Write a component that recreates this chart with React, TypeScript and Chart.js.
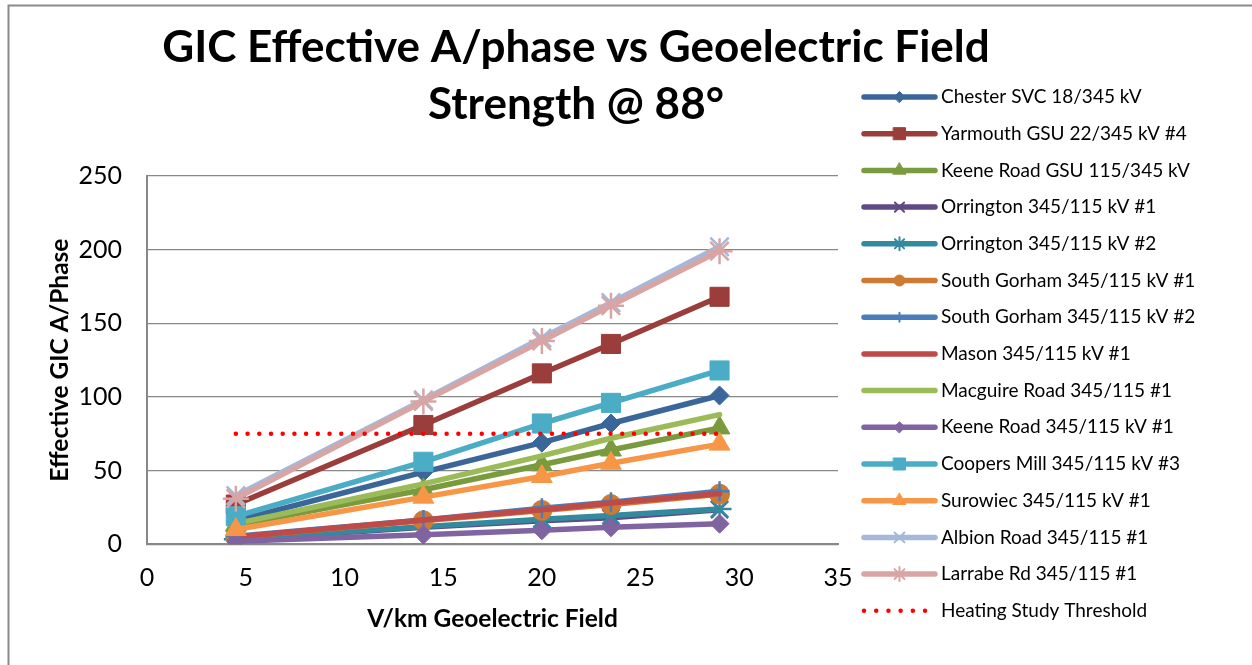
import React, { useEffect, useRef } from 'react';
import { Chart, registerables } from 'chart.js';
import { drawPoint } from 'chart.js/helpers';

Chart.register(...registerables);

// ---------------- data ----------------
const fieldStrength = [4.5, 14, 20, 23.5, 29];

const seriesNames = [
  'Chester SVC 18/345 kV',
  'Yarmouth GSU 22/345 kV #4',
  'Keene Road GSU 115/345 kV',
  'Orrington 345/115 kV #1',
  'Orrington 345/115 kV #2',
  'South Gorham 345/115 kV #1',
  'South Gorham 345/115 kV #2',
  'Mason 345/115 kV #1',
  'Macguire Road 345/115 #1',
  'Keene Road 345/115 kV #1',
  'Coopers Mill 345/115 kV #3',
  'Surowiec 345/115 kV #1',
  'Albion Road 345/115 #1',
  'Larrabe Rd 345/115 #1',
];

const chester = [16, 49, 69, 82, 101];
const yarmouth = [27, 81, 116, 136, 168];
const keeneRoadGsu = [13, 37, 54, 64, 79];
const orrington1 = [3, 11.5, 16, 18, 23.5];
const orrington2 = [3.5, 12, 17, 19.5, 24];
const southGorham1 = [5, 16, 23, 27, 34];
const southGorham2 = [5.5, 16.5, 24.5, 28.5, 36];
const mason = [5, 16.5, 23.5, 28, 34.5];
const macguireRoad = [14, 41, 60, 72, 88];
const keeneRoad345 = [2, 6.5, 9.5, 11.5, 14];
const coopersMill = [19, 56, 82, 96, 118];
const surowiec = [10, 32, 46, 55, 68];
const albionRoad = [33, 98, 140, 164, 202];
const larrabeRd = [31, 97, 138, 162, 199];

const seriesValues = [
  chester, yarmouth, keeneRoadGsu, orrington1, orrington2, southGorham1,
  southGorham2, mason, macguireRoad, keeneRoad345, coopersMill, surowiec,
  albionRoad, larrabeRd,
];

const thresholdName = 'Heating Study Threshold';
const thresholdX = [4.5, 29];
const thresholdY = [75, 75];

const titleLines = ['GIC Effective A/phase vs Geoelectric Field', 'Strength @ 88°'];
const xTitle = 'V/km Geoelectric Field';
const yTitle = 'Effective GIC A/Phase';
const xMin = 0, xMax = 35, xStep = 5;
const yMin = 0, yMax = 250, yStep = 50;

// ---------------- styles ----------------
const styles: { color: string; point: any; r: number; lr: number; bw: number }[] = [
  { color: '#3B6699', point: 'rectRot', r: 9.5, lr: 5.5, bw: 1 },
  { color: '#9B3D3B', point: 'rect', r: 13.5, lr: 8.5, bw: 1 },
  { color: '#7A9A3E', point: 'triangle', r: 12, lr: 7.5, bw: 1 },
  { color: '#5F4A85', point: 'crossRot', r: 12, lr: 6.5, bw: 2.5 },
  { color: '#338A9E', point: 'star', r: 12, lr: 6.5, bw: 2.5 },
  { color: '#CF7A32', point: 'circle', r: 10, lr: 5.5, bw: 1 },
  { color: '#4A7EBB', point: 'cross', r: 10, lr: 4.5, bw: 2.5 },
  { color: '#BE4B48', point: false, r: 0, lr: 0, bw: 0 },
  { color: '#9BBB59', point: false, r: 0, lr: 0, bw: 0 },
  { color: '#8064A2', point: 'rectRot', r: 9.5, lr: 5.5, bw: 1 },
  { color: '#4BACC6', point: 'rect', r: 13.5, lr: 8.5, bw: 1 },
  { color: '#F79646', point: 'triangle', r: 12, lr: 7.5, bw: 1 },
  { color: '#A5B8D9', point: 'crossRot', r: 13, lr: 7, bw: 2.5 },
  { color: '#D9A5A4', point: 'star', r: 13, lr: 7, bw: 2.5 },
];
const thresholdColor = '#FF0000';

const W = 1252, H = 665;
const FONT = 'Lato, "Open Sans", sans-serif';
const CA = { left: 147, right: 838, top: 176, bottom: 544.3 };
const PAD = { top: 70.8, left: 10, bottom: 10, right: 0 };
const LEG_FONT = 19;
const LEG_PAD = 15.7;
const LEG_ITEM_H = 21;
const LEG_TEXT_X = 941;
const SYM_OFF = 10.3;
const SYM_LEN = 71;
const TITLE_CX = 576;
const TITLE_LH = 57;
const TITLE_Y1 = 48;

export default function App() {
  const ref = useRef<HTMLCanvasElement>(null);

  useEffect(() => {
    document.body.style.margin = '0';
    document.body.style.overflow = 'hidden';
    const canvas = ref.current!;

    const datasets: any[] = seriesNames.map((name, i) => {
      const st = styles[i];
      return {
        label: name,
        data: fieldStrength.map((x, k) => ({ x, y: seriesValues[i][k] })),
        borderColor: st.color,
        backgroundColor: st.color,
        borderWidth: 5.5,
        borderCapStyle: 'round',
        borderJoinStyle: 'round',
        pointStyle: st.point || 'circle',
        pointRadius: st.point ? st.r : 0,
        pointBorderWidth: st.bw,
        pointBackgroundColor: st.color,
        pointBorderColor: st.color,
        tension: 0,
        fill: false,
        order: -i,
      };
    });
    datasets.push({
      label: thresholdName,
      data: thresholdX.map((x, k) => ({ x, y: thresholdY[k] })),
      borderColor: thresholdColor,
      backgroundColor: thresholdColor,
      borderWidth: 4.5,
      borderCapStyle: 'round',
      borderDash: [0.01, 11.7],
      pointRadius: 0,
      fill: false,
      order: -20,
    });

    const decor = {
      id: 'decor',
      beforeLayout(chart: any) {
        const lg = chart.legend;
        if (lg && !lg.__fixedWidth) {
          const orig = lg.fit;
          lg.fit = function () {
            orig.call(this);
            this.width = W - CA.right - PAD.right;
          };
          lg.__fixedWidth = true;
        }
      },
      afterLayout(chart: any) {
        const t = chart.titleBlock;
        if (t) {
          const h = t.bottom - t.top;
          t.left = 0;
          t.right = TITLE_CX * 2;
          t.top = TITLE_Y1 - TITLE_LH / 2;
          t.bottom = t.top + h;
        }
      },
      afterDraw(chart: any) {
        const ctx: CanvasRenderingContext2D = chart.ctx;
        ctx.save();
        // outer frame
        ctx.strokeStyle = '#8A8A8A';
        ctx.lineWidth = 2;
        ctx.beginPath();
        ctx.moveTo(8.5, H + 2);
        ctx.lineTo(8.5, 5.5);
        ctx.lineTo(W + 2, 5.5);
        ctx.stroke();

        // legend symbols
        const lg = chart.legend;
        const boxes = lg.legendHitBoxes || [];
        (lg.legendItems || []).forEach((it: any, k: number) => {
          const hb = boxes[k];
          if (!hb) return;
          const i = it.datasetIndex;
          const cy = hb.top + hb.height / 2;
          const x0 = hb.left + SYM_OFF;
          const x1 = x0 + SYM_LEN;
          ctx.save();
          if (i >= seriesNames.length) {
            ctx.strokeStyle = thresholdColor;
            ctx.lineWidth = 4.5;
            ctx.lineCap = 'round';
            ctx.setLineDash([0.01, 12.2]);
            ctx.beginPath();
            ctx.moveTo(x0, cy);
            ctx.lineTo(x0 + 62, cy);
            ctx.stroke();
          } else {
            const st = styles[i];
            ctx.strokeStyle = st.color;
            ctx.fillStyle = st.color;
            ctx.lineWidth = 5.5;
            ctx.lineCap = 'round';
            ctx.beginPath();
            ctx.moveTo(x0, cy);
            ctx.lineTo(x1, cy);
            ctx.stroke();
            if (st.point) {
              ctx.lineWidth = st.bw > 1 ? 2 : 1;
              drawPoint(ctx, { pointStyle: st.point, radius: st.lr, rotation: 0, borderWidth: ctx.lineWidth } as any, (x0 + x1) / 2, cy);
            }
          }
          ctx.restore();
        });
        ctx.restore();
      },
    };

    const chart = new Chart(canvas, {
      type: 'line',
      data: { datasets },
      plugins: [decor],
      options: {
        responsive: false,
        animation: false,
        events: [],
        devicePixelRatio: 1,
        layout: { padding: { top: PAD.top, left: PAD.left, right: PAD.right, bottom: PAD.bottom } },
        plugins: {
          tooltip: { enabled: false },
          title: {
            display: true,
            fullSize: false,
            text: titleLines,
            color: '#000',
            font: { family: FONT, size: 44, weight: 'bold', lineHeight: `${TITLE_LH}px` },
            padding: { top: 0, bottom: CA.top - PAD.top - 2 * TITLE_LH },
          },
          legend: {
            display: true,
            position: 'right',
            align: 'start',
            fullSize: true,
            labels: {
              color: '#000',
              font: { family: FONT, size: LEG_FONT },
              boxWidth: LEG_TEXT_X - (CA.right + LEG_PAD) - LEG_FONT / 2,
              boxHeight: LEG_ITEM_H,
              padding: LEG_PAD,
              sort: (a: any, b: any) => a.datasetIndex - b.datasetIndex,
              generateLabels: (c: any) =>
                Chart.defaults.plugins.legend.labels.generateLabels(c).map((l: any) => ({
                  ...l,
                  fillStyle: 'rgba(0,0,0,0)',
                  strokeStyle: 'rgba(0,0,0,0)',
                  lineWidth: 0,
                  lineDash: [],
                })),
            },
          },
        },
        scales: {
          x: {
            type: 'linear',
            min: xMin,
            max: xMax,
            afterFit: (s: any) => { s.height = H - PAD.bottom - CA.bottom; },
            ticks: { stepSize: xStep, color: '#000', padding: 19, font: { family: FONT, size: 25 } },
            grid: { display: false, drawTicks: false },
            border: { display: true, color: '#888888', width: 2 },
            title: {
              display: true,
              text: xTitle,
              color: '#000',
              font: { family: FONT, size: 24.5, weight: 'bold', lineHeight: 1.2 },
              padding: { top: 0, bottom: 36 - 14.7 },
            },
          },
          y: {
            type: 'linear',
            min: yMin,
            max: yMax,
            afterFit: (s: any) => { s.width = CA.left - PAD.left; },
            ticks: { stepSize: yStep, color: '#000', padding: 25, font: { family: FONT, size: 25 } },
            grid: { color: '#888888', lineWidth: 1.3, drawTicks: false },
            border: { display: true, color: '#888888', width: 2 },
            title: {
              display: true,
              text: yTitle,
              color: '#000',
              font: { family: FONT, size: 24.5, weight: 'bold', lineHeight: 1.2 },
              padding: { top: 60 - PAD.left - 14.7, bottom: 0 },
            },
          },
        },
      } as any,
    });
    return () => chart.destroy();
  }, []);

  return (
    <div style={{ width: W, height: H, position: 'relative', background: '#fff' }}>
      <canvas ref={ref} width={W} height={H} style={{ display: 'block' }} />
    </div>
  );
}
